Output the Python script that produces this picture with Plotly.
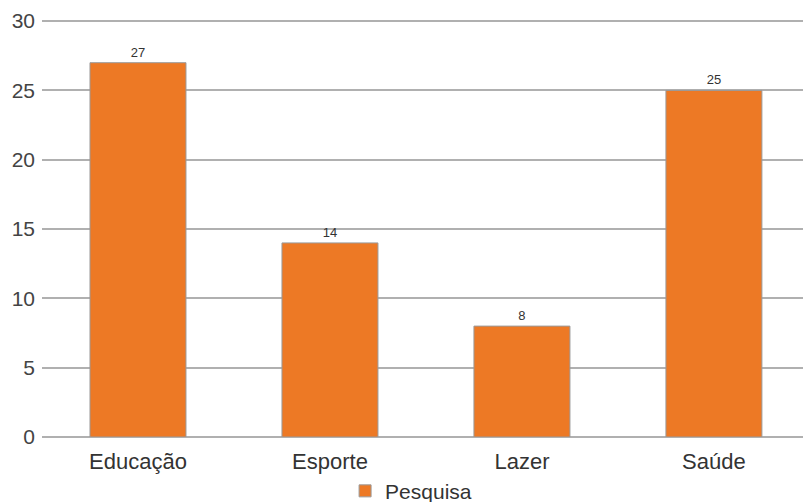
import plotly.graph_objects as go

categories = ["Educação", "Esporte", "Lazer", "Saúde"]
values = [27, 14, 8, 25]
series_name = "Pesquisa"
y_ticks = [0, 5, 10, 15, 20, 25, 30]

fig = go.Figure()
fig.add_trace(go.Bar(
    x=categories, y=values, name=series_name,
    marker=dict(color="#ED7925", line=dict(color="#9a9a9a", width=1)),
    width=0.5,
    text=[str(v) for v in values], textposition="outside",
    textfont=dict(size=13, color="#333333", family="Liberation Sans, Arial"),
    cliponaxis=False,
    showlegend=True,
))

fig.update_layout(
    width=803, height=502,
    margin=dict(l=42, r=0, t=20, b=65, autoexpand=False),
    plot_bgcolor="white", paper_bgcolor="white",
    font=dict(family="Liberation Sans, Arial", size=22, color="#333333"),
    xaxis=dict(range=[-0.5, 3.464], showgrid=False, showline=False, ticks="",
               ticklabelstandoff=9,
               tickfont=dict(size=22, color="#333333")),
    yaxis=dict(range=[0, 30.08], tickvals=y_ticks, showgrid=True, gridcolor="#b0b0b0",
               gridwidth=2, zeroline=True, zerolinecolor="#b0b0b0", zerolinewidth=2,
               ticks="", ticklabelstandoff=6,
               tickfont=dict(size=21, color="#444444")),
    showlegend=True,
    legend=dict(orientation="h", x=0.485, xanchor="center", yref="paper",
                y=-0.13, yanchor="middle",
                font=dict(size=21, color="#333333"), itemwidth=30),
    bargap=0.5,
)

fig.write_html("out.html")
